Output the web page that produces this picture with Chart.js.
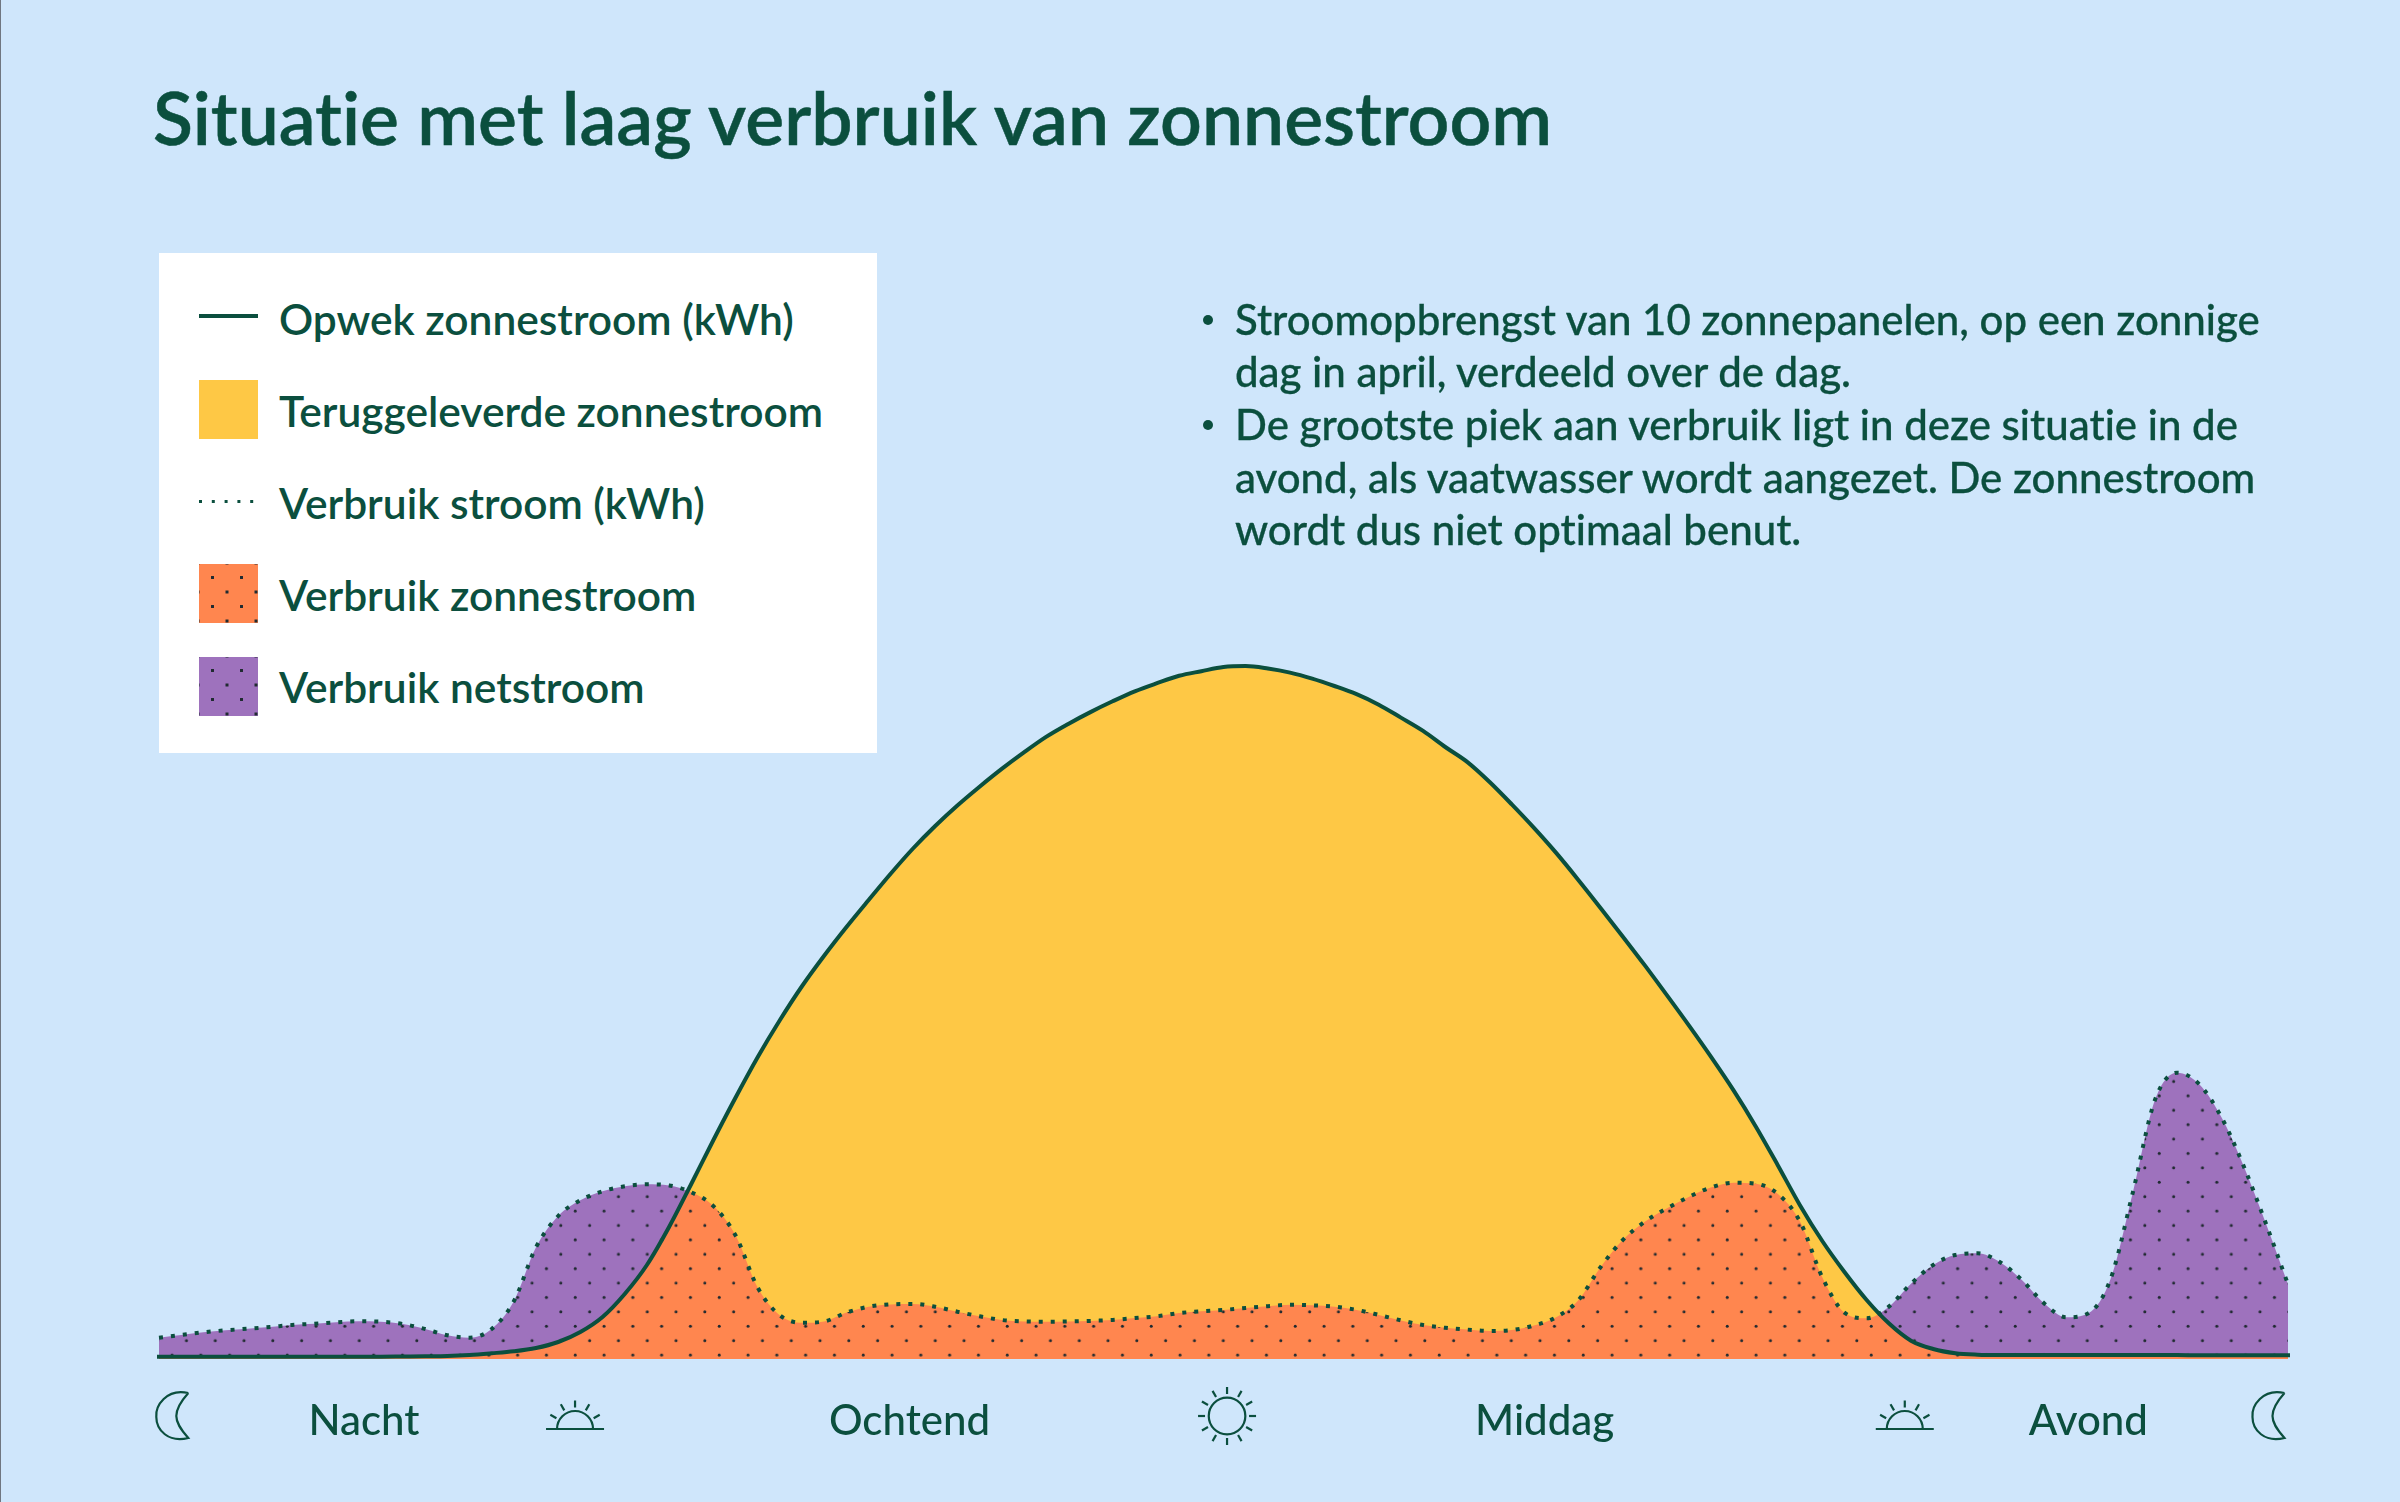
<!DOCTYPE html>
<html lang="nl">
<head>
<meta charset="utf-8">
<title>Situatie met laag verbruik van zonnestroom</title>
<script src="https://cdn.jsdelivr.net/npm/chart.js@4"></script>
<style>
  html, body { margin: 0; padding: 0; background: #cfe6fb; }
  body { position: relative; width: 2400px; height: 1502px; overflow: hidden; font-family: Lato, "Open Sans", sans-serif; color: #0b4f3e; font-variant-ligatures: none; }
  #chart { position: absolute; left: 0; top: 0; }
  #edge { position: absolute; left: 0; top: 0; width: 1px; height: 1502px; background: #707680; }
  .abs { position: absolute; white-space: nowrap; }
  #title { left: 153px; top: 72px; font-size: 73.3px; line-height: 90px; font-weight: 600; -webkit-text-stroke: 0.5px #0b4f3e; }
  #legendBox { left: 159px; top: 253px; width: 718px; height: 500px; background: #fff; }
  .legendText { left: 279px; font-size: 42.5px; line-height: 50px; font-weight: 600; }
  .swatch { left: 199px; width: 59px; height: 59px; }
  .dots {
    background-image: radial-gradient(circle, #1f2a30 1.4px, transparent 2px), radial-gradient(circle, #1f2a30 1.4px, transparent 2px);
    background-size: 29px 29px;
    background-position: -1px -1px, 13.5px 13.5px;
  }
  .bullet { left: 1235px; font-size: 42px; line-height: 52.7px; font-weight: 500; -webkit-text-stroke: 0.3px #0b4f3e; }
  .dot { left: 1203px; width: 10px; height: 10px; border-radius: 50%; background: #0b4f3e; }
</style>
</head>
<body>
<canvas id="chart" width="2400" height="1502"></canvas>
<div id="edge"></div>
<div id="title" class="abs">Situatie met laag verbruik van zonnestroom</div>
<div id="legendBox" class="abs"></div>
<div id="overlay"></div>
<script>
// uur van de dag, per kwartier
const hours = [
  0, 0.25, 0.5, 0.75, 1, 1.25, 1.5, 1.75, 2, 2.25, 2.5, 2.75, 3, 3.25, 3.5, 3.75,
  4, 4.25, 4.5, 4.75, 5, 5.25, 5.5, 5.75, 6, 6.25, 6.5, 6.75, 7, 7.25, 7.5, 7.75,
  8, 8.25, 8.5, 8.75, 9, 9.25, 9.5, 9.75, 10, 10.25, 10.5, 10.75, 11, 11.25, 11.5, 11.75,
  12, 12.25, 12.5, 12.75, 13, 13.25, 13.5, 13.75, 14, 14.25, 14.5, 14.75, 15, 15.25, 15.5, 15.75,
  16, 16.25, 16.5, 16.75, 17, 17.25, 17.5, 17.75, 18, 18.25, 18.5, 18.75, 19, 19.25, 19.5, 19.75,
  20, 20.25, 20.5, 20.75, 21, 21.25, 21.5, 21.75, 22, 22.25, 22.5, 22.75, 23, 23.25, 23.5, 23.75, 24
];

const verbruik = [
  0.213, 0.24, 0.267, 0.287, 0.303, 0.32, 0.34, 0.353, 0.367, 0.377, 0.373, 0.35, 0.30, 0.237, 0.213, 0.30,
  0.577, 1.117, 1.43, 1.587, 1.677, 1.727, 1.747, 1.736, 1.667, 1.529, 1.235, 0.712, 0.436, 0.363, 0.376, 0.464,
  0.523, 0.546, 0.551, 0.523, 0.473, 0.427, 0.39, 0.376, 0.372, 0.376, 0.381, 0.39, 0.409, 0.427, 0.459, 0.478,
  0.491, 0.51, 0.528, 0.542, 0.537, 0.523, 0.491, 0.441, 0.386, 0.34, 0.312, 0.294, 0.28, 0.289, 0.335, 0.418,
  0.588, 0.918, 1.189, 1.373, 1.507, 1.623, 1.717, 1.763, 1.753, 1.65, 1.373, 0.817, 0.463, 0.407, 0.523, 0.753,
  0.94, 1.04, 1.057, 0.97, 0.79, 0.557, 0.417, 0.457, 0.80, 1.663, 2.59, 2.863, 2.747, 2.417, 1.93, 1.357, 0.747
];

const opwek = [
  0.023, 0.023, 0.023, 0.023, 0.023, 0.023, 0.023, 0.023, 0.023, 0.023, 0.023, 0.025, 0.027, 0.03, 0.04, 0.057,
  0.077, 0.11, 0.17, 0.27, 0.42, 0.65, 0.94, 1.32, 1.75, 2.19, 2.615, 3.02, 3.39, 3.73, 4.035, 4.32,
  4.59, 4.855, 5.105, 5.33, 5.535, 5.723, 5.901, 6.066, 6.221, 6.351, 6.469, 6.577, 6.677, 6.758, 6.832, 6.878,
  6.92, 6.929, 6.905, 6.864, 6.804, 6.73, 6.648, 6.543, 6.414, 6.281, 6.12, 5.969, 5.77, 5.546, 5.311, 5.061,
  4.791, 4.511, 4.226, 3.936, 3.636, 3.331, 3.016, 2.686, 2.326, 1.936, 1.536, 1.18, 0.87, 0.59, 0.357, 0.183,
  0.10, 0.057, 0.043, 0.04, 0.04, 0.04, 0.04, 0.04, 0.04, 0.04, 0.04, 0.04, 0.037, 0.037, 0.037, 0.037, 0.037
];

const periodLabels = ['Nacht', 'Ochtend', 'Middag', 'Avond'];
const periodHours = [2.31, 8.46, 15.62, 21.75];
const iconKinds = ['maan', 'opkomst', 'zon', 'opkomst', 'maan'];
const iconHours = [0.15, 4.69, 12.04, 19.68, 23.78];

const legendLabels = ['Opwek zonnestroom (kWh)', 'Teruggeleverde zonnestroom', 'Verbruik stroom (kWh)', 'Verbruik zonnestroom', 'Verbruik netstroom'];
const bulletLines = [
  ['Stroomopbrengst van 10 zonnepanelen, op een zonnige', 'dag in april, verdeeld over de dag.'],
  ['De grootste piek aan verbruik ligt in deze situatie in de', 'avond, als vaatwasser wordt aangezet. De zonnestroom', 'wordt dus niet optimaal benut.']
];

const GREEN = '#0b4f3e';
const YELLOW = '#fec845';
const ORANGE = '#ff864f';
const PURPLE = '#9e72bd';

function dottedPattern(ctx, color) {
  const tile = document.createElement('canvas');
  tile.width = 29;
  tile.height = 29;
  const t = tile.getContext('2d');
  t.fillStyle = color;
  t.fillRect(0, 0, 29, 29);
  t.fillStyle = '#1f2a30';
  [[7.25, 7.25], [21.75, 21.75]].forEach(([x, y]) => {
    t.beginPath();
    t.arc(x, y, 1.5, 0, Math.PI * 2);
    t.fill();
  });
  const pattern = ctx.createPattern(tile, 'repeat');
  const s = 28.8 / 29;
  pattern.setTransform(new DOMMatrix([s, 0, 0, s, 172 - 7.25 * s, 1355 - 7.25 * s]));
  return pattern;
}

function buildOverlay() {
  const overlay = document.getElementById('overlay');
  const rows = [294, 386, 478, 570, 662];
  const html = legendLabels.map((label, i) => `<div class="abs legendText" style="top:${rows[i]}px">${label}</div>`);
  html.push('<div class="abs" style="left:199px;top:314px;width:59px;height:4px;background:' + GREEN + '"></div>');
  html.push('<div class="abs swatch" style="top:380px;background-color:' + YELLOW + '"></div>');
  html.push('<svg class="abs" style="left:199px;top:498px" width="59" height="8"><line x1="0" y1="3.5" x2="59" y2="3.5" stroke="' + GREEN + '" stroke-width="3" stroke-dasharray="3 9.8"/></svg>');
  html.push('<div class="abs swatch dots" style="top:564px;background-color:' + ORANGE + '"></div>');
  html.push('<div class="abs swatch dots" style="top:657px;background-color:' + PURPLE + '"></div>');
  let y = 292.5;
  bulletLines.forEach(lines => {
    html.push(`<div class="abs dot" style="top:${y + 22}px"></div>`);
    lines.forEach(line => {
      html.push(`<div class="abs bullet" style="top:${y}px">${line}</div>`);
      y += 52.7;
    });
  });
  overlay.innerHTML = html.join('');
}

function drawMoon(ctx, x, y) {
  ctx.beginPath();
  ctx.moveTo(x + 16, y - 23);
  ctx.bezierCurveTo(x - 6, y - 28, x - 17, y - 10, x - 16, y + 1);
  ctx.bezierCurveTo(x - 16, y + 14, x - 4, y + 27, x + 16, y + 22);
  ctx.bezierCurveTo(x + 8, y + 13, x + 4, y + 7, x + 4, y);
  ctx.bezierCurveTo(x + 4, y - 7, x + 8, y - 14, x + 16, y - 23);
  ctx.stroke();
}

function drawRays(ctx, x, y, inner, outer, angles) {
  angles.forEach(deg => {
    const a = deg * Math.PI / 180;
    ctx.beginPath();
    ctx.moveTo(x + Math.cos(a) * inner, y - Math.sin(a) * inner);
    ctx.lineTo(x + Math.cos(a) * outer, y - Math.sin(a) * outer);
    ctx.stroke();
  });
}

function drawSun(ctx, x, y) {
  ctx.beginPath();
  ctx.arc(x, y, 18.3, 0, Math.PI * 2);
  ctx.stroke();
  drawRays(ctx, x, y, 22, 29, [0, 30, 60, 90, 120, 150, 180, 210, 240, 270, 300, 330]);
}

function drawSunrise(ctx, x, y) {
  ctx.beginPath();
  ctx.moveTo(x - 29, y);
  ctx.lineTo(x + 29, y);
  ctx.stroke();
  ctx.beginPath();
  ctx.arc(x, y, 18, Math.PI, 0);
  ctx.stroke();
  drawRays(ctx, x, y, 21.5, 28.5, [30, 60, 90, 120, 150]);
}

const dayIcons = {
  id: 'dayIcons',
  afterDraw(chart) {
    const { ctx, scales } = chart;
    ctx.save();
    ctx.strokeStyle = GREEN;
    ctx.lineWidth = 2.2;
    iconKinds.forEach((kind, i) => {
      const x = scales.x.getPixelForValue(iconHours[i]);
      if (kind === 'maan') drawMoon(ctx, x, 1416);
      if (kind === 'zon') drawSun(ctx, x, 1416);
      if (kind === 'opkomst') drawSunrise(ctx, x, 1429);
    });
    ctx.restore();
  }
};

function initChart() {
  const ctx = document.getElementById('chart').getContext('2d');
  new Chart(ctx, {
    type: 'line',
    data: {
      labels: hours,
      datasets: [
        {
          label: 'Verbruik stroom (kWh)',
          data: verbruik,
          borderColor: GREEN,
          borderWidth: 4,
          borderDash: [4, 8],
          cubicInterpolationMode: 'monotone',
          pointRadius: 0,
          clip: false,
          fill: { target: 1, above: dottedPattern(ctx, PURPLE), below: YELLOW }
        },
        {
          label: 'Opwek zonnestroom (kWh)',
          data: opwek,
          borderColor: GREEN,
          borderWidth: 4,
          borderCapStyle: 'square',
          cubicInterpolationMode: 'monotone',
          pointRadius: 0,
          clip: false,
          backgroundColor: dottedPattern(ctx, ORANGE),
          fill: 'origin'
        }
      ]
    },
    options: {
      responsive: false,
      devicePixelRatio: 1,
      animation: false,
      layout: { padding: { left: 159, right: 112, top: 609, bottom: 0 } },
      scales: {
        x: {
          type: 'linear',
          min: 0,
          max: 24,
          border: { display: false },
          grid: { display: false, drawTicks: false },
          afterFit: scale => { scale.height = 143; },
          afterBuildTicks: scale => { scale.ticks = periodHours.map(value => ({ value })); },
          ticks: {
            color: GREEN,
            padding: 37,
            autoSkip: false,
            maxRotation: 0,
            font: { family: 'Lato', size: 42, weight: '500' },
            callback: (value, i) => periodLabels[i]
          }
        },
        y: { display: false, min: 0, max: 7.5 }
      },
      plugins: {
        legend: { display: false },
        tooltip: { enabled: false },
        filler: { drawTime: 'beforeDatasetsDraw' }
      }
    },
    plugins: [dayIcons]
  });
}

buildOverlay();
initChart();
</script>
</body>
</html>
